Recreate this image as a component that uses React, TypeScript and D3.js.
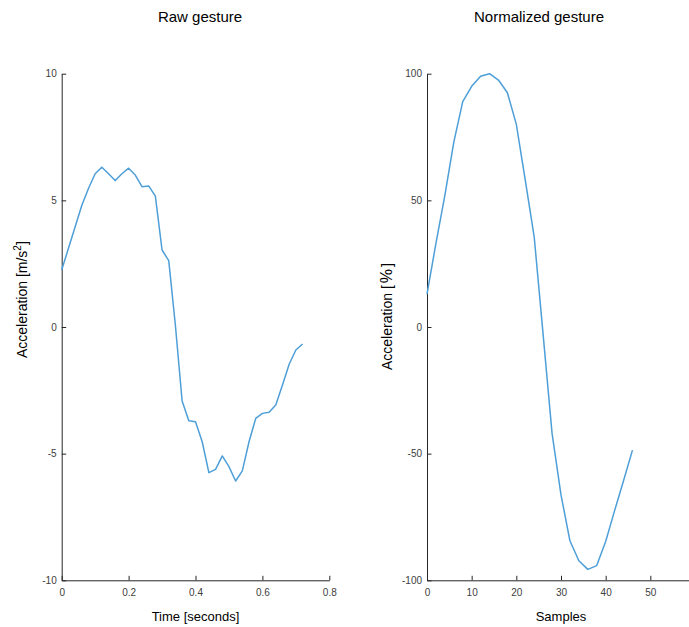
import React, { useEffect, useRef } from "react";
import * as d3 from "d3";

const rawTime = [0, 0.02, 0.04, 0.06, 0.08, 0.1, 0.12, 0.14, 0.16, 0.18, 0.2, 0.22, 0.24, 0.26, 0.28, 0.3, 0.32, 0.34, 0.36, 0.38, 0.4, 0.42, 0.44, 0.46, 0.48, 0.5, 0.52, 0.54, 0.56, 0.58, 0.6, 0.62, 0.64, 0.66, 0.68, 0.7, 0.72];
const rawAccel = [2.25, 3.1, 3.95, 4.8, 5.47, 6.05, 6.31, 6.05, 5.78, 6.05, 6.27, 6.0, 5.54, 5.57, 5.17, 3.04, 2.62, 0.05, -2.92, -3.7, -3.74, -4.53, -5.75, -5.62, -5.09, -5.51, -6.08, -5.68, -4.53, -3.61, -3.41, -3.37, -3.08, -2.29, -1.47, -0.91, -0.67];

const samples = [0, 2, 4, 6, 8, 10, 12, 14, 16, 18, 20, 22, 24, 26, 28, 30, 32, 34, 36, 38, 40, 42, 44, 46];
const normAccel = [13, 33, 52, 73, 89, 95, 99, 100, 97.5, 92.5, 80, 58, 35.6, -3, -42, -66.3, -84.4, -92.3, -95.7, -94.2, -84.7, -72.5, -60.7, -48.6];

const rawXTicks = [0, 0.2, 0.4, 0.6, 0.8];
const rawYTicks = [-10, -5, 0, 5, 10];
const normXTicks = [0, 10, 20, 30, 40, 50];
const normYTicks = [-100, -50, 0, 50, 100];

const W = 689;
const H = 627;
const FONT = "'Liberation Sans', Arial, sans-serif";
const LINE = "#4e9fd8";
const AX = "#262626";

export default function App() {
  const ref = useRef<SVGSVGElement | null>(null);

  useEffect(() => {
    const svg = d3.select(ref.current);
    svg.selectAll("*").remove();

    const top = 73.7;
    const bottom = 580.3;

    const panels = [
      {
        x0: 61.7, x1: 329.3, xd: [0, 0.8], yd: [-10, 10],
        xt: rawXTicks, yt: rawYTicks, xs: rawTime, ys: rawAccel,
        title: "Raw gesture", titleX: 200, xlabel: "Time [seconds]",
        ylabelStartY: 358, ylabelX: 27, sup: true,
      },
      {
        x0: 427, x1: 695, xd: [0, 60], yd: [-100, 100],
        xt: normXTicks, yt: normYTicks, xs: samples, ys: normAccel,
        title: "Normalized gesture", titleX: 539, xlabel: "Samples",
        ylabelStartY: 370, ylabelX: 392, sup: false,
      },
    ];

    panels.forEach((p) => {
      const x = d3.scaleLinear().domain(p.xd).range([p.x0, p.x1]);
      const y = d3.scaleLinear().domain(p.yd).range([bottom, top]);
      const g = svg.append("g");

      const yAxis = d3.axisLeft(y).tickValues(p.yt).tickSize(-4.5).tickSizeOuter(0).tickPadding(5)
        .tickFormat((d: any) => String(d));
      const ya = g.append("g").attr("transform", `translate(${p.x0},0)`).call(yAxis);

      const xAxis = d3.axisBottom(x).tickValues(p.xt).tickSize(-4.5).tickSizeOuter(0).tickPadding(8.5)
        .tickFormat((d: any) => String(d));
      const xa = g.append("g").attr("transform", `translate(0,${bottom})`).call(xAxis);

      [ya, xa].forEach((a) => {
        a.select(".domain").attr("stroke", AX).attr("stroke-width", 1);
        a.selectAll(".tick line").attr("stroke", AX).attr("stroke-width", 1);
        a.selectAll(".tick text").attr("fill", "#404040").attr("font-size", 10).attr("font-family", FONT);
      });

      const line = d3.line<number>()
        .x((_, i) => x(p.xs[i]))
        .y((d) => y(d));
      g.append("path")
        .datum(p.ys)
        .attr("d", line as any)
        .attr("fill", "none")
        .attr("stroke", LINE)
        .attr("stroke-width", 1.5)
        .attr("stroke-linejoin", "round");

      g.append("text")
        .attr("x", p.titleX).attr("y", 21.5)
        .attr("text-anchor", "middle")
        .attr("font-family", FONT).attr("font-size", 15).attr("fill", "#000")
        .text(p.title);

      g.append("text")
        .attr("x", (p.x0 + p.x1) / 2).attr("y", 621)
        .attr("text-anchor", "middle")
        .attr("font-family", FONT).attr("font-size", 13).attr("fill", "#000")
        .text(p.xlabel);

      const yl = g.append("text")
        .attr("transform", `translate(${p.ylabelX},${p.ylabelStartY}) rotate(-90)`)
        .attr("text-anchor", "start")
        .attr("font-family", FONT).attr("font-size", 14).attr("fill", "#000");
      if (p.sup) {
        yl.append("tspan").text("Acceleration [m/s");
        yl.append("tspan").attr("font-size", 10).attr("dy", -6).text("2");
        yl.append("tspan").attr("dy", 6).text("]");
      } else {
        yl.append("tspan").text("Acceleration [");
        yl.append("tspan").attr("dx", 2).attr("font-size", 16).text("%");
        yl.append("tspan").attr("dx", 2).text("]");
      }
    });
  }, []);

  return (
    <svg
      ref={ref}
      width={W}
      height={H}
      style={{ position: "absolute", left: 0, top: 0, background: "#fff" }}
    />
  );
}
